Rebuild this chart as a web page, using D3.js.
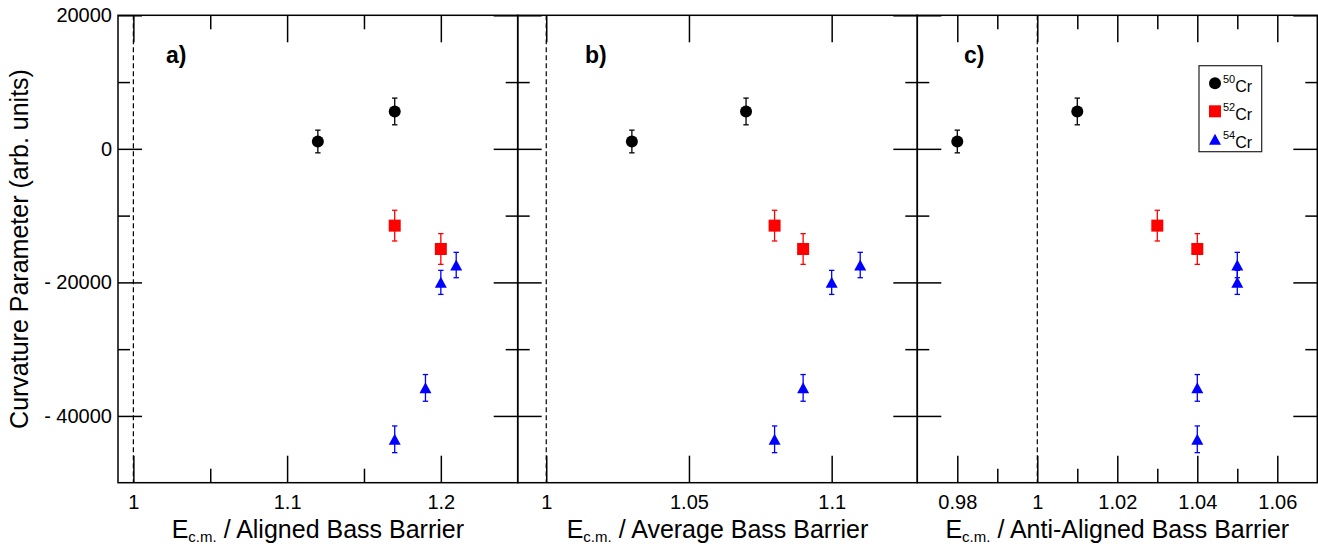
<!DOCTYPE html>
<html>
<head>
<meta charset="utf-8">
<script src="https://cdn.jsdelivr.net/npm/d3@7"></script>
<style>
    body { margin: 0; background: #fff; }
    svg { display: block; font-family: "Liberation Sans", Arial, sans-serif; }
</style>
</head>
<body>
<div id="graph"></div>
<script>
window.onload = start;

// curvature values (same for all three panels) and their error bars
const y50 = [1100, 5600];
const err50 = [1700, 2000];
const y52 = [-11500, -15000];
const err52 = [2300, 2300];
const y54 = [-43500, -35800, -20000, -17400];
const err54 = [2000, 2000, 1800, 1900];

// E_cm / barrier for each panel
const alignedX50 = [1.12, 1.17];
const alignedX52 = [1.17, 1.20];
const alignedX54 = [1.17, 1.19, 1.20, 1.21];
const averageX50 = [1.03, 1.07];
const averageX52 = [1.08, 1.09];
const averageX54 = [1.08, 1.09, 1.10, 1.11];
const antiX50 = [0.98, 1.01];
const antiX52 = [1.03, 1.04];
const antiX54 = [1.04, 1.04, 1.05, 1.05];

const yMajor = [-40000, -20000, 0, 20000];
const yMinor = [-30000, -10000, 10000];
const alignedTicks = [1, 1.1, 1.2];
const alignedMinor = [1.05, 1.15];
const averageTicks = [1, 1.05, 1.1];
const averageMinor = [];
const antiTicks = [0.98, 1, 1.02, 1.04, 1.06];
const antiMinor = [0.99, 1.01, 1.03, 1.05];

const panelLetters = ["a)", "b)", "c)"];
const barrierNames = ["Aligned", "Average", "Anti-Aligned"];
const isotopes = ["50", "52", "54"];


function start() {
    var width = 1318, height = 544;
    var top = 15.3, bottom = 482.7;
    var panelEdges = [118, 517.7, 917.3, 1317.3];

    var svg = d3.select("#graph")
        .append("svg")
        .attr("width", width)
        .attr("height", height);

    var yScale = d3.scaleLinear().domain([-50000, 20000]).range([bottom, top]);

    var panels = [
        { domain: [0.99, 1.25], ticks: alignedTicks, minor: alignedMinor, xs: [alignedX50, alignedX52, alignedX54], labelX: 166 },
        { domain: [0.99, 1.13], ticks: averageTicks, minor: averageMinor, xs: [averageX50, averageX52, averageX54], labelX: 585 },
        { domain: [0.97, 1.07], ticks: antiTicks, minor: antiMinor, xs: [antiX50, antiX52, antiX54], labelX: 964 }
    ];
    var ys = [y50, y52, y54];
    var errs = [err50, err52, err54];
    var colors = ["#000000", "#ff0000", "#0000ff"];

    function yFormat(d) {
        return d < 0 ? "- " + Math.abs(d) : String(d);
    }

    // marker shapes centred on (0,0)
    function marker(sel, k, color) {
        if (k == 0) {
            sel.append("circle").attr("r", 6).attr("fill", color);
        } else if (k == 1) {
            sel.append("rect").attr("x", -6).attr("y", -6).attr("width", 12).attr("height", 12).attr("fill", color);
        } else {
            sel.append("path").attr("d", "M0,-5.6L6,5.4L-6,5.4Z").attr("fill", color);
        }
    }

    panels.forEach(function (p, i) {
        var x0 = panelEdges[i], x1 = panelEdges[i + 1];
        var xScale = d3.scaleLinear().domain(p.domain).range([x0, x1]);
        var g = svg.append("g").attr("class", "panel" + i);

        // dashed line at E/B = 1
        g.append("line")
            .attr("x1", xScale(1)).attr("x2", xScale(1))
            .attr("y1", top).attr("y2", bottom)
            .attr("stroke", "#000")
            .attr("stroke-width", 1.2)
            .attr("stroke-dasharray", "5,3");

        // axes with inward ticks on all four sides
        var axes = [
            { ax: d3.axisBottom(xScale).tickValues(p.ticks).tickSize(-27).tickPadding(12).tickFormat(function (d) { return String(d); }), t: "translate(0," + bottom + ")" },
            { ax: d3.axisBottom(xScale).tickValues(p.minor).tickSize(-14).tickFormat(""), t: "translate(0," + bottom + ")" },
            { ax: d3.axisTop(xScale).tickValues(p.ticks).tickSize(-27).tickFormat(""), t: "translate(0," + top + ")" },
            { ax: d3.axisTop(xScale).tickValues(p.minor).tickSize(-14).tickFormat(""), t: "translate(0," + top + ")" },
            { ax: d3.axisLeft(yScale).tickValues(yMajor).tickSize(-24).tickPadding(6).tickFormat(i == 0 ? yFormat : ""), t: "translate(" + x0 + ",0)" },
            { ax: d3.axisLeft(yScale).tickValues(yMinor).tickSize(-12).tickFormat(""), t: "translate(" + x0 + ",0)" },
            { ax: d3.axisRight(yScale).tickValues(yMajor).tickSize(-24).tickFormat(""), t: "translate(" + x1 + ",0)" },
            { ax: d3.axisRight(yScale).tickValues(yMinor).tickSize(-12).tickFormat(""), t: "translate(" + x1 + ",0)" }
        ];
        axes.forEach(function (a) {
            var ag = g.append("g")
                .attr("transform", a.t)
                .call(a.ax);
            ag.select(".domain").remove();
            ag.selectAll("line").attr("stroke", "#000").attr("stroke-width", 1.5);
            ag.selectAll("text")
                .attr("fill", "#000")
                .style("font-size", "20px")
                .style("font-family", "'Liberation Sans', Arial, sans-serif");
        });

        // frame
        g.append("rect")
            .attr("x", x0).attr("y", top)
            .attr("width", x1 - x0).attr("height", bottom - top)
            .attr("fill", "none")
            .attr("stroke", "#000")
            .attr("stroke-width", 1.5);

        // data with error bars
        for (let k = 0; k < 3; k++) {
            let pts = p.xs[k].map(function (xv, j) { return { x: xv, y: ys[k][j], e: errs[k][j] }; });
            let sg = g.append("g");
            let bars = sg.selectAll(".err" + k).data(pts).enter().append("g")
                .attr("stroke", colors[k])
                .attr("stroke-width", 1.3);
            bars.append("line")
                .attr("x1", function (d) { return xScale(d.x); })
                .attr("x2", function (d) { return xScale(d.x); })
                .attr("y1", function (d) { return yScale(d.y + d.e); })
                .attr("y2", function (d) { return yScale(d.y - d.e); });
            [1, -1].forEach(function (s) {
                bars.append("line")
                    .attr("x1", function (d) { return xScale(d.x) - 2.7; })
                    .attr("x2", function (d) { return xScale(d.x) + 2.7; })
                    .attr("y1", function (d) { return yScale(d.y + s * d.e); })
                    .attr("y2", function (d) { return yScale(d.y + s * d.e); });
            });
            sg.selectAll(".pt" + k).data(pts).enter().append("g")
                .attr("transform", function (d) { return "translate(" + xScale(d.x) + "," + yScale(d.y) + ")"; })
                .each(function () { marker(d3.select(this), k, colors[k]); });
        }

        // panel letter
        g.append("text")
            .attr("x", p.labelX)
            .attr("y", 63)
            .style("font-size", "23px")
            .style("font-weight", "bold")
            .text(panelLetters[i]);

        // x title
        var title = g.append("text")
            .attr("x", (x0 + x1) / 2)
            .attr("y", 538)
            .attr("text-anchor", "middle")
            .style("font-size", "25px");
        title.append("tspan").text("E");
        title.append("tspan").attr("dy", 4).style("font-size", "15px").text("c.m.");
        title.append("tspan").attr("dy", -4).text(" / " + barrierNames[i] + " Bass Barrier");
    });

    // y axis title
    svg.append("text")
        .attr("transform", "translate(28," + ((top + bottom) / 2) + ") rotate(-90)")
        .attr("text-anchor", "middle")
        .style("font-size", "25px")
        .text("Curvature Parameter (arb. units)");

    // legend
    var legend = svg.append("g").attr("class", "legend");
    legend.append("rect")
        .attr("x", 1199).attr("y", 65.7)
        .attr("width", 62.7).attr("height", 86)
        .attr("fill", "#fff")
        .attr("stroke", "#222")
        .attr("stroke-width", 1.2);
    var legendY = d3.scalePoint().domain(isotopes).range([83.3, 139.3]);
    isotopes.forEach(function (iso, k) {
        var row = legend.append("g").attr("transform", "translate(1215," + legendY(iso) + ")");
        marker(row, k, colors[k]);
        var t = row.append("text").attr("x", 8).attr("y", 0);
        t.append("tspan").style("font-size", "11px").text(iso);
        t.append("tspan").attr("dy", 8.5).style("font-size", "16px").text("Cr");
    });
}
</script>
</body>
</html>
